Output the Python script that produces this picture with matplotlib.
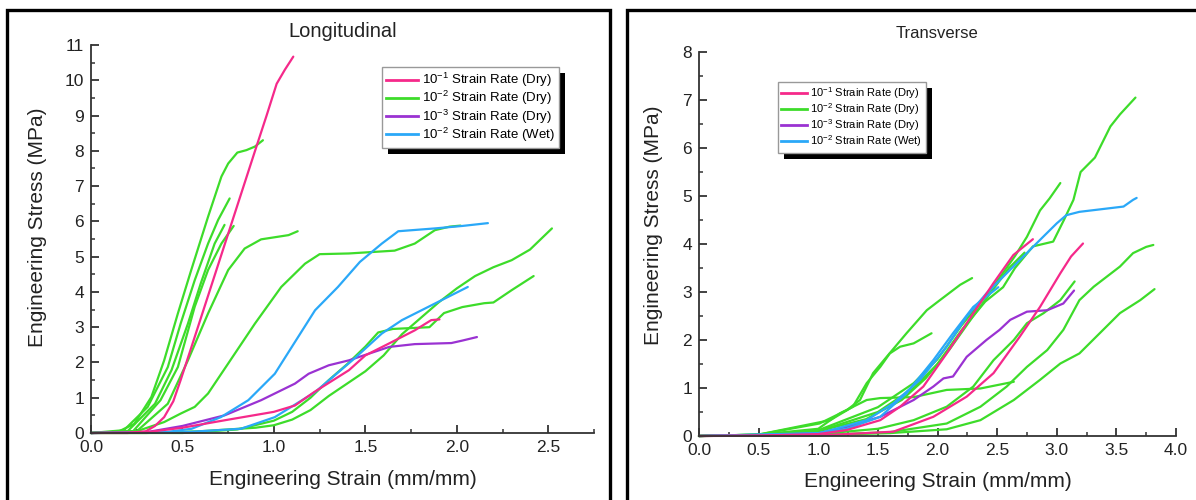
import matplotlib
matplotlib.use("Agg")
import matplotlib.pyplot as plt
from matplotlib.patches import Rectangle
from matplotlib.lines import Line2D
from matplotlib.transforms import IdentityTransform
from matplotlib.ticker import MultipleLocator

plt.rcParams['font.family'] = ['Liberation Sans', 'DejaVu Sans']
plt.rcParams['mathtext.fontset'] = 'custom'
plt.rcParams['mathtext.rm'] = 'Liberation Sans'

PINK = '#f5298a'
GREEN = '#3ddc2a'
PURPLE = '#9a32d2'
BLUE = '#2aa8f8'

labels = [r'10$^{-1}$ Strain Rate (Dry)', r'10$^{-2}$ Strain Rate (Dry)',
          r'10$^{-3}$ Strain Rate (Dry)', r'10$^{-2}$ Strain Rate (Wet)']

# ---- Longitudinal specimens (strain mm/mm, stress MPa) ----
lp1_x = [0, 0.2, 0.3, 0.35, 0.4, 0.45, 0.49, 0.55, 0.6, 0.7, 0.8, 0.9, 0.96, 1.015, 1.06, 1.106]
lp1_y = [0, 0.0, 0.05, 0.2, 0.45, 0.9, 1.5, 2.45, 3.25, 4.85, 6.45, 8.05, 9.0, 9.9, 10.3, 10.67]
lp2_x = [0, 0.3, 0.5, 0.73, 1.0, 1.115, 1.22, 1.41, 1.5, 1.63, 1.77, 1.86, 1.905]
lp2_y = [0, 0.02, 0.15, 0.36, 0.6, 0.78, 1.16, 1.78, 2.2, 2.54, 2.91, 3.2, 3.22]

lg1_x = [0, 0.1, 0.146, 0.237, 0.33, 0.40, 0.475, 0.548, 0.64, 0.713, 0.75, 0.80, 0.85, 0.896, 0.94]
lg1_y = [0, 0.01, 0.03, 0.26, 1.02, 2.06, 3.39, 4.62, 6.13, 7.27, 7.64, 7.95, 8.02, 8.12, 8.3]
lg2_x = [0, 0.18, 0.31, 0.42, 0.49, 0.567, 0.64, 0.695, 0.758]
lg2_y = [0, 0.08, 0.74, 1.87, 3.1, 4.33, 5.37, 6.04, 6.65]
lg3_x = [0, 0.2, 0.35, 0.44, 0.53, 0.60, 0.676, 0.73]
lg3_y = [0, 0.05, 0.83, 1.78, 3.1, 4.24, 5.37, 5.9]
lg4_x = [0, 0.23, 0.38, 0.475, 0.567, 0.64, 0.713, 0.78]
lg4_y = [0, 0.05, 0.93, 1.87, 3.58, 4.62, 5.37, 5.87]
lg5_x = [0, 0.25, 0.42, 0.53, 0.64, 0.75, 0.84, 0.93, 1.08, 1.13]
lg5_y = [0, 0.05, 0.83, 2.06, 3.39, 4.62, 5.23, 5.49, 5.61, 5.72]
lg6_x = [0, 0.25, 0.4, 0.49, 0.567, 0.64, 0.75, 0.896, 1.04, 1.17, 1.25, 1.41, 1.66, 1.77, 1.88, 1.96, 2.02]
lg6_y = [0, 0.05, 0.31, 0.55, 0.74, 1.12, 1.97, 3.1, 4.14, 4.8, 5.07, 5.09, 5.17, 5.37, 5.75, 5.85, 5.88]
lg7_x = [0, 0.3, 0.6, 0.9, 1.0, 1.1, 1.2, 1.3, 1.4, 1.5, 1.6, 1.7, 1.8, 1.9, 2.0, 2.1, 2.2, 2.3, 2.4, 2.52]
lg7_y = [0, 0.0, 0.05, 0.15, 0.22, 0.38, 0.65, 1.05, 1.4, 1.75, 2.2, 2.8, 3.25, 3.7, 4.1, 4.45, 4.7, 4.9, 5.2, 5.8]
lg8_x = [0, 0.5, 0.8, 1.0, 1.1, 1.2, 1.3, 1.4, 1.5, 1.57, 1.65, 1.85, 1.93, 2.03, 2.15, 2.2, 2.3, 2.42]
lg8_y = [0, 0.0, 0.1, 0.35, 0.6, 1.0, 1.5, 1.95, 2.45, 2.85, 2.95, 3.0, 3.4, 3.57, 3.68, 3.7, 4.05, 4.45]

lv1_x = [0, 0.3, 0.5, 0.73, 0.93, 1.115, 1.19, 1.3, 1.41, 1.52, 1.63, 1.77, 1.97, 2.03, 2.11]
lv1_y = [0, 0.02, 0.2, 0.5, 0.93, 1.4, 1.68, 1.92, 2.06, 2.25, 2.44, 2.52, 2.55, 2.62, 2.72]

lb1_x = [0, 0.4, 0.55, 0.71, 0.86, 1.005, 1.115, 1.225, 1.35, 1.47, 1.59, 1.68, 1.88, 2.03, 2.17]
lb1_y = [0, 0.02, 0.12, 0.45, 0.93, 1.68, 2.58, 3.48, 4.14, 4.85, 5.37, 5.72, 5.8, 5.87, 5.95]
lb2_x = [0, 0.5, 0.82, 1.005, 1.225, 1.44, 1.59, 1.7, 1.88, 2.06]
lb2_y = [0, 0.02, 0.12, 0.45, 1.16, 2.11, 2.82, 3.2, 3.67, 4.14]

# ---- Transverse specimens ----
tp1_x = [0, 0.5, 1.0, 1.24, 1.52, 1.686, 1.881, 2.077, 2.245, 2.468, 2.636, 2.80]
tp1_y = [0, 0.01, 0.04, 0.125, 0.33, 0.61, 1.03, 1.72, 2.35, 3.18, 3.77, 4.10]
tp2_x = [0, 1.0, 1.63, 1.965, 2.245, 2.47, 2.69, 2.86, 3.03, 3.12, 3.22]
tp2_y = [0, 0.01, 0.09, 0.40, 0.82, 1.31, 2.07, 2.69, 3.39, 3.74, 4.01]

tg1_x = [0, 0.5, 1.0, 1.5, 1.8, 2.0, 2.2, 2.4, 2.55, 2.65, 2.75, 2.86, 2.94, 3.03]
tg1_y = [0, 0.02, 0.12, 0.6, 1.1, 1.6, 2.3, 2.9, 3.4, 3.75, 4.15, 4.7, 4.95, 5.27]
tg2_x = [0, 0.5, 1.0, 1.5, 1.8, 2.0, 2.2, 2.4, 2.55, 2.65, 2.8, 2.97, 3.06, 3.14, 3.2, 3.32, 3.45, 3.53, 3.66]
tg2_y = [0, 0.02, 0.1, 0.5, 1.0, 1.5, 2.2, 2.8, 3.1, 3.5, 3.95, 4.05, 4.5, 4.92, 5.5, 5.8, 6.45, 6.7, 7.05]
tg3_x = [0, 0.5, 1.01, 1.24, 1.35, 1.46, 1.574, 1.74, 1.91, 2.02, 2.19, 2.29]
tg3_y = [0, 0.03, 0.26, 0.54, 0.75, 1.31, 1.65, 2.14, 2.62, 2.83, 3.15, 3.29]
tg4_x = [0, 0.5, 1.10, 1.29, 1.406, 1.52, 1.60, 1.686, 1.80, 1.85, 1.95]
tg4_y = [0, 0.03, 0.33, 0.61, 1.10, 1.44, 1.72, 1.86, 1.93, 2.0, 2.14]
tg5_x = [0, 0.5, 1.0, 1.18, 1.406, 1.52, 1.80, 2.077, 2.36, 2.64]
tg5_y = [0, 0.03, 0.15, 0.47, 0.75, 0.79, 0.81, 0.96, 0.99, 1.13]
tg6_x = [0, 1.0, 1.5, 1.80, 2.077, 2.30, 2.47, 2.64, 2.75, 2.89, 3.03, 3.15]
tg6_y = [0, 0.04, 0.15, 0.33, 0.61, 1.03, 1.58, 2.0, 2.35, 2.56, 2.83, 3.22]
tg7_x = [0, 1.0, 1.6, 2.077, 2.36, 2.58, 2.75, 2.92, 3.055, 3.19, 3.31, 3.42, 3.53, 3.64, 3.75, 3.81]
tg7_y = [0, 0.02, 0.08, 0.26, 0.61, 1.03, 1.44, 1.79, 2.21, 2.83, 3.11, 3.32, 3.53, 3.81, 3.94, 3.98]
tg8_x = [0, 1.0, 1.6, 2.077, 2.36, 2.64, 2.86, 3.03, 3.19, 3.36, 3.53, 3.70, 3.82]
tg8_y = [0, 0.02, 0.06, 0.14, 0.33, 0.75, 1.17, 1.51, 1.72, 2.14, 2.56, 2.83, 3.06]
tg9_x = [0, 0.5, 1.0, 1.4, 1.7, 1.9, 2.1, 2.3, 2.45, 2.6, 2.73]
tg9_y = [0, 0.02, 0.1, 0.35, 0.75, 1.2, 1.8, 2.5, 3.0, 3.5, 3.82]

tv1_x = [0, 0.5, 1.0, 1.24, 1.52, 1.80, 1.965, 2.05, 2.13, 2.245, 2.41, 2.52, 2.61, 2.75, 2.92, 3.055, 3.145]
tv1_y = [0, 0.01, 0.06, 0.19, 0.40, 0.75, 1.03, 1.2, 1.24, 1.65, 2.0, 2.21, 2.42, 2.59, 2.62, 2.76, 3.03]

tb1_x = [0, 1.0, 1.406, 1.63, 1.853, 2.077, 2.245, 2.41, 2.58, 2.72, 2.89, 3.0, 3.08, 3.19, 3.56, 3.64, 3.67]
tb1_y = [0, 0.05, 0.33, 0.68, 1.17, 1.86, 2.49, 2.97, 3.39, 3.74, 4.16, 4.43, 4.6, 4.67, 4.78, 4.92, 4.96]
tb2_x = [0, 1.0, 1.24, 1.52, 1.74, 1.965, 2.13, 2.30, 2.51]
tb2_y = [0, 0.06, 0.15, 0.40, 0.89, 1.58, 2.14, 2.69, 3.1]

long_curves = {
    GREEN: [(lg1_x, lg1_y), (lg2_x, lg2_y), (lg3_x, lg3_y), (lg4_x, lg4_y),
            (lg5_x, lg5_y), (lg6_x, lg6_y), (lg7_x, lg7_y), (lg8_x, lg8_y)],
    PURPLE: [(lv1_x, lv1_y)],
    BLUE: [(lb1_x, lb1_y), (lb2_x, lb2_y)],
    PINK: [(lp1_x, lp1_y), (lp2_x, lp2_y)],
}
trans_curves = {
    GREEN: [(tg1_x, tg1_y), (tg2_x, tg2_y), (tg3_x, tg3_y), (tg4_x, tg4_y), (tg5_x, tg5_y),
            (tg6_x, tg6_y), (tg7_x, tg7_y), (tg8_x, tg8_y), (tg9_x, tg9_y)],
    PURPLE: [(tv1_x, tv1_y)],
    BLUE: [(tb1_x, tb1_y), (tb2_x, tb2_y)],
    PINK: [(tp1_x, tp1_y), (tp2_x, tp2_y)],
}

W, H = 1196, 500
fig = plt.figure(figsize=(W / 100, H / 100), dpi=100)


def px_box(x0, y_top, x1, y_bot):
    return [x0 / W, 1 - y_bot / H, (x1 - x0) / W, (y_bot - y_top) / H]


ax1 = fig.add_axes(px_box(91, 45, 594, 433))
ax2 = fig.add_axes(px_box(699, 52, 1176, 436))


def style_axes(ax, xmax, ymax, title, title_size, title_y):
    ax.set_xlim(0, xmax)
    ax.set_ylim(0, ymax)
    for s in ['top', 'right']:
        ax.spines[s].set_visible(False)
    for s in ['left', 'bottom']:
        ax.spines[s].set_color('#333333')
        ax.spines[s].set_linewidth(1.3)
    ax.xaxis.set_major_locator(MultipleLocator(0.5))
    ax.xaxis.set_minor_locator(MultipleLocator(0.25))
    ax.yaxis.set_major_locator(MultipleLocator(1))
    ax.yaxis.set_minor_locator(MultipleLocator(0.5))
    ax.xaxis.set_major_formatter('{x:.1f}')
    ax.tick_params(which='major', direction='in', length=5.5, width=1.3, color='#333333',
                   labelsize=12.5, labelcolor='#222222', pad=5)
    ax.tick_params(which='minor', direction='in', length=3, width=1.1, color='#333333')
    ax.set_xlabel('Engineering Strain (mm/mm)', fontsize=15, color='#222222')
    ax.set_ylabel('Engineering Stress (MPa)', fontsize=15, color='#222222')
    ax.set_title(title, fontsize=title_size, color='#222222', y=title_y)


style_axes(ax1, 2.75, 11, 'Longitudinal', 14.5, 1.0)
style_axes(ax2, 4.0, 8, 'Transverse', 12, 1.015)
ax1.xaxis.set_label_coords(0.5, -0.095)
ax1.yaxis.set_label_coords(-0.088, 0.53)
ax2.xaxis.set_label_coords(0.5, -0.095)
ax2.yaxis.set_label_coords(-0.075, 0.55)

for ax, curves in [(ax1, long_curves), (ax2, trans_curves)]:
    for color, runs in curves.items():
        for xs, ys in runs:
            ax.plot(xs, ys, color=color, lw=1.6, solid_capstyle='round', clip_on=False)

handles = [Line2D([], [], color=c, lw=2) for c in [PINK, GREEN, PURPLE, BLUE]]

leg1 = ax1.legend(handles, labels, loc='upper left', bbox_to_anchor=(382 / W, 1 - 67 / H),
                  bbox_transform=fig.transFigure, borderaxespad=0, fontsize=9.5,
                  handlelength=2.4, handletextpad=0.3, labelspacing=0.0, borderpad=0.3,
                  fancybox=False, framealpha=1, edgecolor='#999999')
leg2 = ax2.legend(handles, labels, loc='upper left', bbox_to_anchor=(778 / W, 1 - 82 / H),
                  bbox_transform=fig.transFigure, borderaxespad=0, fontsize=8,
                  handlelength=2.3, handletextpad=0.3, labelspacing=0.02, borderpad=0.3,
                  fancybox=False, framealpha=1, edgecolor='#999999')
for leg in (leg1, leg2):
    leg.get_frame().set_linewidth(1.0)

# black drop shadow behind each legend box
fig.canvas.draw()
for ax, leg in [(ax1, leg1), (ax2, leg2)]:
    bb = leg.get_window_extent()
    shadow = Rectangle((bb.x0 + 6, bb.y0 - 6), bb.width, bb.height, transform=IdentityTransform(),
                       facecolor='black', edgecolor='none', zorder=4.5, clip_on=False)
    ax.add_artist(shadow)

# panel frames
fig.add_artist(Rectangle((7 / W, -0.1), (610 - 7) / W, 1.1 - 10 / H, transform=fig.transFigure,
                         fill=False, edgecolor='black', lw=2.4, clip_on=False))
fig.add_artist(Rectangle((627 / W, -0.1), 0.6, 1.1 - 10 / H, transform=fig.transFigure,
                         fill=False, edgecolor='black', lw=2.4, clip_on=False))

fig.savefig('out.png', dpi=100)
